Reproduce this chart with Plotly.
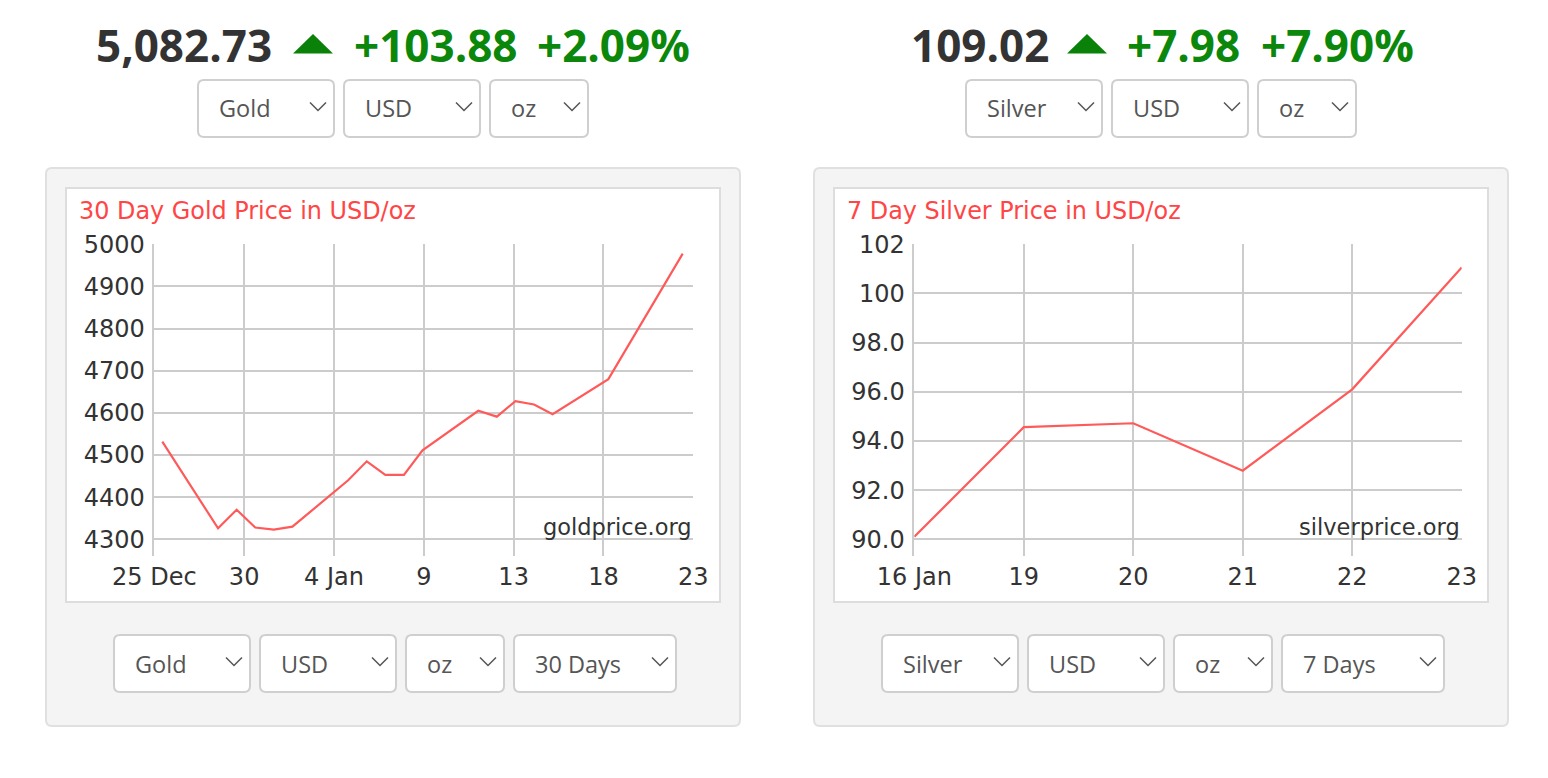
import plotly.graph_objects as go
import pandas as pd

# ---------------- data ----------------
gold_dates = ["2025-12-25", "2025-12-28", "2025-12-29", "2025-12-30", "2025-12-31",
              "2026-01-01", "2026-01-04", "2026-01-05", "2026-01-06", "2026-01-07",
              "2026-01-08", "2026-01-11", "2026-01-12", "2026-01-13", "2026-01-14",
              "2026-01-15", "2026-01-18", "2026-01-22"]
gold_values = [4532, 4326, 4370, 4328, 4323, 4330, 4440, 4485, 4453, 4453,
               4511, 4605, 4591, 4628, 4620, 4597, 4680, 4978]
gold_tick_labels = ["25 Dec", "30", "4 Jan", "9", "13", "18", "23"]
gold_y_ticks = [4300, 4400, 4500, 4600, 4700, 4800, 4900, 5000]

silver_days = ["16 Jan", "19", "20", "21", "22", "23"]
silver_values = [90.10, 94.56, 94.72, 92.79, 96.10, 101.06]
silver_y_ticks = [90, 92, 94, 96, 98, 100, 102]
silver_y_labels = ["90.0", "92.0", "94.0", "96.0", "98.0", "100", "102"]

gold_header = ["5,082.73", "+103.88", "+2.09%"]
silver_header = ["109.02", "+7.98", "+7.90%"]
gold_top_selects = ["Gold", "USD", "oz"]
gold_bottom_selects = ["Gold", "USD", "oz", "30 Days"]
silver_top_selects = ["Silver", "USD", "oz"]
silver_bottom_selects = ["Silver", "USD", "oz", "7 Days"]
gold_title = "30 Day Gold Price in USD/oz"
silver_title = "7 Day Silver Price in USD/oz"

# ---------------- helpers ----------------
# the page body has an 8px margin; the figure is sized to fit inside it
OFF = 8
W, H = 1548 - 2 * OFF, 778 - 2 * OFF
def fx(x): return (x - OFF) / W
def fy(y): return 1 - (y - OFF) / H

def pt(x, y): return f"{fx(x):.6f},{fy(y):.6f}"

def rrect(x0, y0, x1, y1, r):
    return (f"M{pt(x0+r,y0)} L{pt(x1-r,y0)} Q{pt(x1,y0)} {pt(x1,y0+r)} "
            f"L{pt(x1,y1-r)} Q{pt(x1,y1)} {pt(x1-r,y1)} L{pt(x0+r,y1)} "
            f"Q{pt(x0,y1)} {pt(x0,y1-r)} L{pt(x0,y0+r)} Q{pt(x0,y0)} {pt(x0+r,y0)} Z")

shapes = []
annotations = []
GREEN = "#0b870b"
DARK = "#333333"
SEL = "#555555"
RED = "#ff4545"
LINE = "#ff5a5a"
GRID = "#cccccc"

def panel(x0, x1):
    shapes.append(dict(type="path", path=rrect(x0, 168, x1, 726, 6), xref="paper", yref="paper",
                       fillcolor="#f4f4f4", line=dict(color="#e0e0e0", width=2), layer="below"))
    shapes.append(dict(type="rect", x0=fx(x0+20), x1=fx(x1-20), y0=fy(602), y1=fy(188),
                       xref="paper", yref="paper", fillcolor="white",
                       line=dict(color="#dddddd", width=2), layer="below"))

def select(x0, x1, y0, y1, text):
    shapes.append(dict(type="path", path=rrect(x0, y0, x1, y1, 6), xref="paper", yref="paper",
                       fillcolor="white", line=dict(color="#cfcfcf", width=2), layer="below"))
    cx, cy = x1 - 16, (y0 + y1) / 2 - 2
    shapes.append(dict(type="path", path=f"M{pt(cx-8,cy-4)} L{pt(cx,cy+4)} L{pt(cx+8,cy-4)}",
                       xref="paper", yref="paper", line=dict(color=SEL, width=1.5), layer="above"))
    annotations.append(dict(x=fx(x0 + 19), y=fy((y0 + y1) / 2), xref="paper", yref="paper",
                            text=text, showarrow=False, xanchor="left", yanchor="middle",
                            font=dict(family="Open Sans", size=23.5, color=SEL)))

def header(vals, xs, tri):
    cy = 45
    annotations.append(dict(x=fx(xs[0]), y=fy(cy), xref="paper", yref="paper", text=f"<b>{vals[0]}</b>",
                            showarrow=False, xanchor="left", yanchor="middle",
                            font=dict(family="Open Sans", size=44, color=DARK)))
    for v, x in zip(vals[1:], xs[1:]):
        annotations.append(dict(x=fx(x), y=fy(cy), xref="paper", yref="paper", text=f"<b>{v}</b>",
                                showarrow=False, xanchor="left", yanchor="middle",
                                font=dict(family="Open Sans", size=44, color=GREEN)))
    tx0, tx1 = tri
    shapes.append(dict(type="path", path=f"M{pt(tx0,53.5)} L{pt((tx0+tx1)/2,34)} L{pt(tx1,53.5)} Z",
                       xref="paper", yref="paper", fillcolor="#0a820a", line=dict(width=0)))

# panels
panel(46, 740)
panel(814, 1508)

# headers
header(gold_header, [94, 352, 535], (293, 333))
header(silver_header, [909, 1125, 1259], (1067, 1107))

# selects
for (x0, x1), t in zip([(198, 334), (344, 480), (490, 588)], gold_top_selects):
    select(x0, x1, 80, 137, t)
for (x0, x1), t in zip([(114, 250), (260, 396), (406, 504), (514, 676)], gold_bottom_selects):
    select(x0, x1, 635, 692, t)
for (x0, x1), t in zip([(966, 1102), (1112, 1248), (1258, 1356)], silver_top_selects):
    select(x0, x1, 80, 137, t)
for (x0, x1), t in zip([(882, 1018), (1028, 1164), (1174, 1272), (1282, 1444)], silver_bottom_selects):
    select(x0, x1, 635, 692, t)

# chart titles & watermarks
CF = "DejaVu Sans"
annotations.append(dict(x=fx(77), y=fy(211), xref="paper", yref="paper", text=gold_title,
                        showarrow=False, xanchor="left", yanchor="middle",
                        font=dict(family=CF, size=23.9, color=RED)))
annotations.append(dict(x=fx(845), y=fy(211), xref="paper", yref="paper", text=silver_title,
                        showarrow=False, xanchor="left", yanchor="middle",
                        font=dict(family=CF, size=23.9, color=RED)))
annotations.append(dict(x=fx(694), y=fy(527), xref="paper", yref="paper", text="goldprice.org",
                        showarrow=False, xanchor="right", yanchor="middle",
                        font=dict(family=CF, size=22.5, color=DARK)))
annotations.append(dict(x=fx(1462), y=fy(527), xref="paper", yref="paper", text="silverprice.org",
                        showarrow=False, xanchor="right", yanchor="middle",
                        font=dict(family=CF, size=22.5, color=DARK)))

# ---------------- traces ----------------
fig = go.Figure()
fig.add_trace(go.Scatter(x=pd.to_datetime(gold_dates) + pd.Timedelta(hours=10, minutes=20),
                         y=gold_values, mode="lines", line=dict(color=LINE, width=2.2),
                         xaxis="x", yaxis="y", hoverinfo="skip"))
fig.add_trace(go.Scatter(x=silver_days, y=silver_values, mode="lines",
                         line=dict(color=LINE, width=2.2), xaxis="x2", yaxis="y2", hoverinfo="skip"))

gold_ticks = pd.date_range("2025-12-25", "2026-01-23", periods=len(gold_tick_labels))

tickfont = dict(family=CF, size=24, color=DARK)
common_x = dict(showgrid=True, gridcolor=GRID, gridwidth=1.5, zeroline=False, showline=False,
                ticks="", tickfont=tickfont, ticklabelstandoff=4, fixedrange=True, automargin=False)
common_y = dict(showgrid=True, gridcolor=GRID, gridwidth=1.5, zeroline=False, showline=True,
                linecolor=GRID, linewidth=1.5, ticks="", tickfont=tickfont, ticklabelstandoff=3,
                fixedrange=True, automargin=False)

fig.update_layout(
    template="none",
    width=W, height=H, margin=dict(l=0, r=0, t=0, b=0, pad=0), autosize=False,
    paper_bgcolor="white", plot_bgcolor="rgba(0,0,0,0)", showlegend=False,
    xaxis=dict(domain=[fx(154.3), fx(693.3)], anchor="y", type="date",
               range=[gold_ticks[0], gold_ticks[-1]], tickvals=list(gold_ticks),
               ticktext=gold_tick_labels, **common_x),
    yaxis=dict(domain=[fy(556), fy(244.3)], anchor="x", range=[4260.4, 5000],
               tickvals=gold_y_ticks, **common_y),
    xaxis2=dict(domain=[fx(914.3), fx(1461.7)], anchor="y2", type="category",
                categoryorder="array", categoryarray=silver_days, range=[0, len(silver_days) - 1],
                **common_x),
    yaxis2=dict(domain=[fy(556), fy(244.3)], anchor="x2", range=[89.32, 102],
                tickvals=silver_y_ticks, ticktext=silver_y_labels, **common_y),
    shapes=shapes, annotations=annotations,
)

fig.write_html("out.html", config={"displayModeBar": False})
